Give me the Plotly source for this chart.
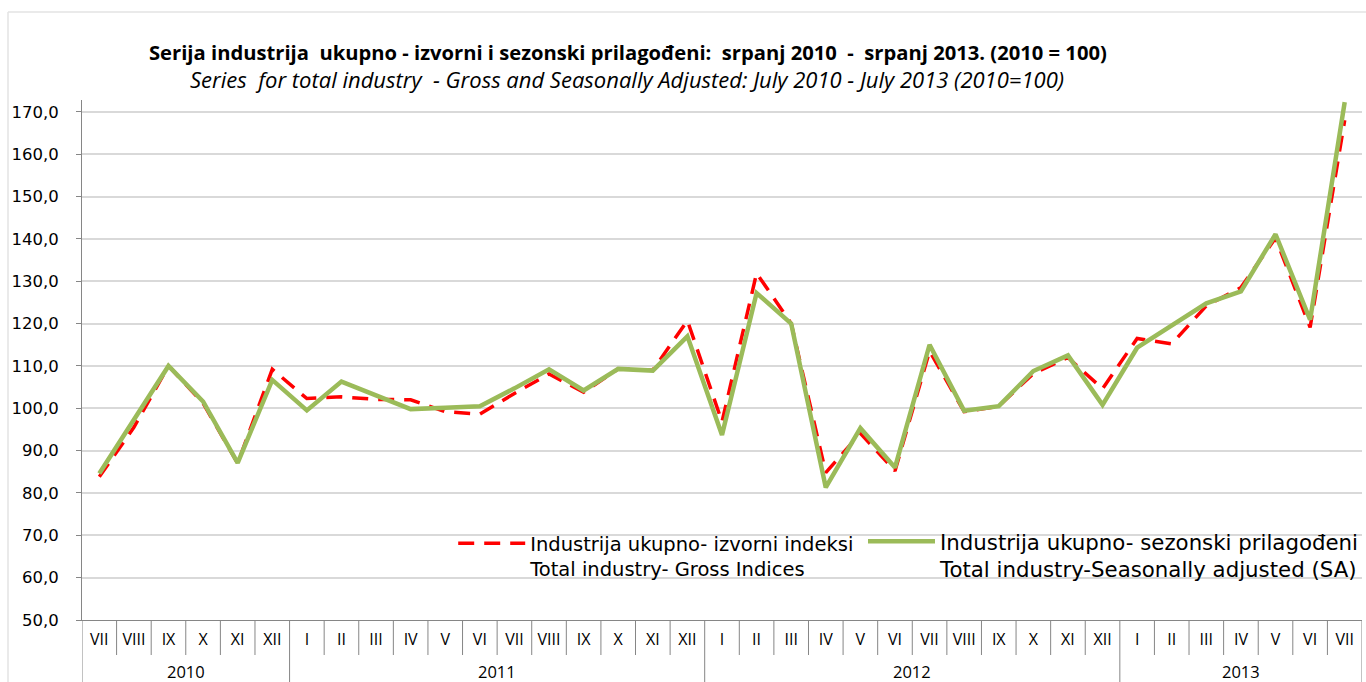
import plotly.graph_objects as go

years = ["2010"] * 6 + ["2011"] * 12 + ["2012"] * 12 + ["2013"] * 7
months = (["VII", "VIII", "IX", "X", "XI", "XII"]
          + ["I", "II", "III", "IV", "V", "VI", "VII", "VIII", "IX", "X", "XI", "XII"]
          + ["I", "II", "III", "IV", "V", "VI", "VII", "VIII", "IX", "X", "XI", "XII"]
          + ["I", "II", "III", "IV", "V", "VI", "VII"])

gross = [83.8, 95.5, 110.0, 101.2, 87.0, 109.2,
         102.3, 102.7, 102.1, 102.0, 99.2, 98.6, 103.5, 108.1, 103.8, 109.3, 109.0, 120.7,
         96.8, 131.9, 120.0, 84.8, 94.1, 85.2, 113.5, 99.2, 100.5, 108.2, 112.0, 104.6,
         116.5, 115.2, 124.2, 128.5, 140.2, 119.1, 168.0]

sa = [84.6, 97.2, 110.0, 101.6, 87.1, 106.7,
      99.5, 106.3, 103.0, 99.8, 100.1, 100.5, 104.7, 109.2, 104.2, 109.3, 108.9, 117.0,
      93.7, 127.2, 120.0, 81.3, 95.3, 86.0, 115.0, 99.4, 100.5, 108.8, 112.5, 100.8,
      114.3, 119.5, 124.8, 127.6, 141.1, 120.9, 172.3]

yticks = [50, 60, 70, 80, 90, 100, 110, 120, 130, 140, 150, 160, 170]
ytick_text = [f"{v:.1f}".replace(".", ",") for v in yticks]

# unique category keys (month + year), displayed with the month only
x_cat = [f"{m} {y}" for m, y in zip(months, years)]

name_gross = "Industrija ukupno- izvorni indeksi<br>Total industry- Gross Indices"
name_sa = "Industrija ukupno- sezonski prilagođeni<br>Total industry-Seasonally adjusted (SA)"

fig = go.Figure()
fig.add_trace(go.Scatter(
    x=x_cat, y=gross, mode="lines", name=name_gross, legend="legend",
    line=dict(color="#ff0000", width=3.5, dash="16px,10px")))
fig.add_trace(go.Scatter(
    x=x_cat, y=sa, mode="lines", name=name_sa, legend="legend2",
    line=dict(color="#9bbb59", width=4.5)))

PLOT_BOTTOM = 620
PLOT_H = 520

fig.update_layout(
    width=1366, height=682,
    margin=dict(l=82, r=4, t=100, b=62, autoexpand=False),
    paper_bgcolor="white", plot_bgcolor="white",
    showlegend=True,
    legend=dict(orientation="h", x=0.29, y=(PLOT_BOTTOM - 524) / PLOT_H,
                xanchor="left", yanchor="top",
                bgcolor="rgba(0,0,0,0)", valign="top",
                font=dict(family="DejaVu Sans", size=19.5, color="#000000"),
                itemwidth=67),
    legend2=dict(orientation="h", x=(863 - 82) / 1280, y=(PLOT_BOTTOM - 521) / PLOT_H,
                 xanchor="left", yanchor="top",
                 bgcolor="rgba(0,0,0,0)", valign="top",
                 font=dict(family="DejaVu Sans", size=21.3, color="#000000"),
                 itemwidth=67),
    xaxis=dict(type="category", categoryorder="array", categoryarray=x_cat,
               range=[-0.5, len(x_cat) - 0.5],
               tickvals=x_cat, ticktext=months,
               showline=True, linecolor="#868686", linewidth=1,
               ticks="", ticklabelstandoff=5,
               tickfont=dict(family="Open Sans", size=16, color="#000000"),
               showgrid=False),
    yaxis=dict(range=[50, 172.8], tickvals=yticks, ticktext=ytick_text,
               showline=True, linecolor="#868686", linewidth=1,
               ticks="outside", ticklen=5, tickcolor="#868686",
               ticklabelstandoff=14,
               showgrid=True, gridcolor="#d9d9d9", gridwidth=1.5,
               zeroline=False,
               tickfont=dict(family="DejaVu Sans", size=16.5, color="#000000")),
    font=dict(family="Open Sans", color="#000000"),
)

fig.add_annotation(
    text="<b>Serija industrija  ukupno - izvorni i sezonski prilagođeni:  srpanj 2010  -  srpanj 2013. (2010 = 100)</b>",
    xref="paper", yref="paper", x=(628 - 82) / 1280, y=(PLOT_BOTTOM - 52) / PLOT_H,
    xanchor="center", yanchor="middle", showarrow=False,
    font=dict(family="Open Sans", size=20.2, color="#000000"))
fig.add_annotation(
    text="<i>Series  for total industry  - Gross and Seasonally Adjusted: July 2010 - July 2013 (2010=100)</i>",
    xref="paper", yref="paper", x=(627 - 82) / 1280, y=(PLOT_BOTTOM - 79) / PLOT_H,
    xanchor="center", yanchor="middle", showarrow=False,
    font=dict(family="Open Sans", size=22, color="#000000"))

# month separators below the axis and year separators down to the bottom
sep_color = "#868686"
n = len(x_cat)
for i in range(n + 1):
    b = i - 0.5
    is_year_edge = (i == 0 or i == n or years[i] != years[i - 1])
    fig.add_shape(type="line", xref="x", yref="paper", x0=b, x1=b,
                  y0=0, y1=(-62 if is_year_edge else -35) / PLOT_H,
                  line=dict(color=sep_color, width=1))

# year labels centred under each group
groups = []
for i, y in enumerate(years):
    if not groups or groups[-1][0] != y:
        groups.append([y, i, i])
    else:
        groups[-1][2] = i
for y, a, b in groups:
    fig.add_annotation(text=y, xref="x", yref="paper", x=(a + b) / 2,
                       y=(PLOT_BOTTOM - 671) / PLOT_H, xanchor="center", yanchor="middle",
                       showarrow=False,
                       font=dict(family="Open Sans", size=16.5, color="#000000"))

# chart-area border (top and left)
top_y = (PLOT_BOTTOM - 12) / PLOT_H
left_x = (8 - 82) / 1280
fig.add_shape(type="line", xref="paper", yref="paper",
              x0=left_x, x1=1.01, y0=top_y, y1=top_y,
              line=dict(color="#e3e3e3", width=1.5))
fig.add_shape(type="line", xref="paper", yref="paper",
              x0=left_x, x1=left_x, y0=top_y, y1=-0.2,
              line=dict(color="#e3e3e3", width=1.5))

fig.write_html("out.html", config={"displayModeBar": False},
               post_script="document.body.style.margin='0';")
